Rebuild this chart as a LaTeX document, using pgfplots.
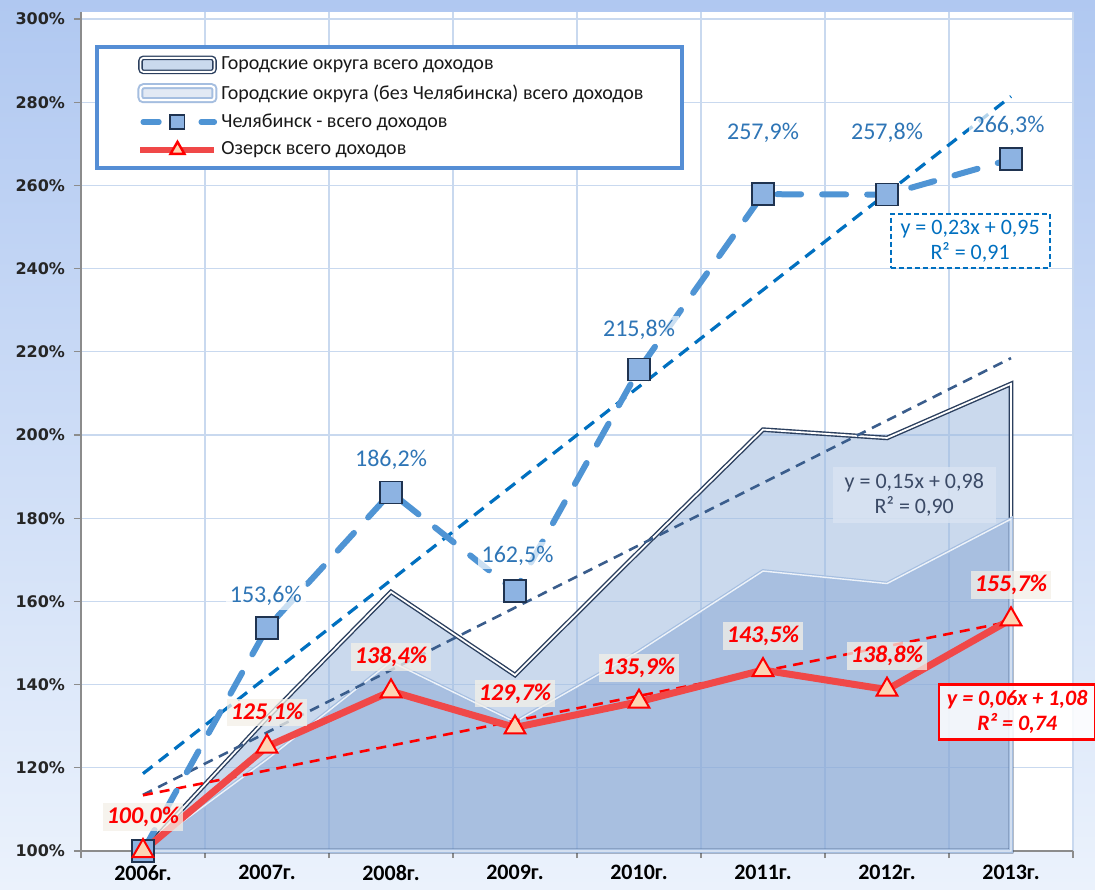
\documentclass[border=0pt]{standalone}
\usepackage{fontspec}
\setmainfont{Carlito}
\newfontfamily\dejavu{DejaVu Sans}
\usepackage{pgfplots}
\pgfplotsset{compat=1.18}
\usetikzlibrary{backgrounds}
\definecolor{bgtop}{HTML}{B0C8F1}
\definecolor{bgbot}{HTML}{EBF2FC}
\definecolor{gridc}{HTML}{C9D9EF}
\definecolor{axisc}{HTML}{8C8C8C}
\definecolor{legc}{HTML}{558ED5}
\definecolor{areaA}{HTML}{9FBBE0}
\definecolor{areaB}{HTML}{80A0D2}
\definecolor{edgeA}{HTML}{2B3F5E}
\definecolor{edgeB}{HTML}{A5BEE0}
\definecolor{chel}{HTML}{4F94D4}
\definecolor{chelmark}{HTML}{8DB3E2}
\definecolor{markedge}{HTML}{1F3350}
\definecolor{ozr}{HTML}{F04848}
\definecolor{ozmark}{HTML}{FCD5B4}
\definecolor{trchel}{HTML}{0070C0}
\definecolor{trA}{HTML}{3A5D8C}
\definecolor{lblblue}{HTML}{2E75B6}
\definecolor{trAtext}{HTML}{3B4A66}
\definecolor{trAbox}{HTML}{D9E4F2}
\definecolor{ozbox}{HTML}{F3F0E8}
\begin{document}
\begin{tikzpicture}
\begin{axis}[
  name=ax, scale only axis, width=496pt, height=419.5pt,
  xmin=-0.5, xmax=7.5, ymin=100, ymax=301.7,
  xtick={-0.5,0.5,...,7.5},
  x tick label as interval,
  xticklabels={2006г.,2007г.,2008г.,2009г.,2010г.,2011г.,2012г.,2013г.},
  ytick={100,120,...,300},
  xmajorgrids=true, ymajorgrids=true,
  grid style={draw=gridc, line width=0.6pt},
  axis lines=left, axis line style={-, draw=axisc, line width=0.8pt},
  tick align=outside,
  tick style={draw=axisc, line width=0.6pt},
  major tick length=3.5pt,
  axis background/.style={fill=white},
  clip=false,
  xticklabel style={font=\bfseries\fontsize{11}{13}\selectfont, text=black},
  yticklabel style={font=\dejavu\bfseries\fontsize{8}{9}\selectfont, text=black!85, xshift=-1pt},
  yticklabel={\pgfmathprintnumber[assume math mode=true, fixed, precision=0]{\tick}\%},
  legend style={at={(0.0141,0.9607)}, anchor=north west, draw=legc, line width=2pt, fill=white,
    font=\fontsize{10}{12}\selectfont, inner xsep=3pt, inner ysep=3pt, row sep=1.8pt,
    cells={anchor=west}, text=black!90},
]
% areas
\addplot[draw=edgeA, line width=0.7pt, double=white, double distance=0.9pt,
  fill=areaA, fill opacity=0.55,
  legend image code/.code={\path (-17pt,0pt);
    \draw[draw=edgeA, line width=0.7pt, double=white, double distance=0.9pt, fill=areaA, rounded corners=1.5pt] (0pt,-3.5pt) rectangle (37pt,3.5pt);}]
  coordinates {(0,100)(1,132)(2,162.3)(3,142.3)(4,172)(5,201.3)(6,199.3)(7,212.3)} \closedcycle;
\addlegendentry{Городские округа  всего доходов}
\addplot[draw=edgeB, line width=0.6pt, double=white!80!edgeB, double distance=0.7pt,
  fill=areaB, fill opacity=0.45,
  legend image code/.code={\path (-17pt,0pt);
    \draw[draw=edgeB, line width=1pt, double=white, double distance=1pt, fill=areaB!50!white, rounded corners=1.5pt] (0pt,-3.5pt) rectangle (37pt,3.5pt);}]
  coordinates {(0,100)(1,122)(2,145.5)(3,131)(4,148)(5,167.3)(6,164.3)(7,179.8)} \closedcycle;
\addlegendentry{Городские округа (без Челябинска) всего доходов\hspace*{14.5pt}}
% trend lines
\addplot[trA, line width=1.3pt, dash pattern=on 5pt off 3.5pt, forget plot] coordinates {(0,113.5)(7,218.5)};
\addplot[trchel, line width=1.6pt, dash pattern=on 6pt off 4pt, forget plot] coordinates {(0,118.6)(7,281.4)};
\addplot[red, line width=1.3pt, dash pattern=on 5pt off 3.5pt, forget plot] coordinates {(0,113.4)(7,155.2)};
% Chelyabinsk
\addplot[color=chel, line width=3pt, dash pattern=on 12pt off 10.5pt, line cap=round,
  mark=square*, mark size=5.5pt, mark options={solid, fill=chelmark, draw=markedge, line width=0.8pt},
  legend image code/.code={\path (-17pt,0pt);
    \draw[line width=2.6pt, line cap=round, dash pattern=on 8pt off 21pt on 8pt off 20pt] (1.3pt,0pt) -- (37pt,0pt);
    \draw[mark size=3.6pt] plot coordinates {(18.5pt,0pt)};}]
  coordinates {(0,100)(1,153.6)(2,186.2)(3,162.5)(4,215.8)(5,257.9)(6,257.8)(7,266.3)};
\addlegendentry{Челябинск - всего доходов}
% Ozersk
\addplot[color=ozr, line width=3.5pt,
  mark=triangle*, mark size=6pt, mark options={fill=ozmark, draw=red, line width=1pt},
  nodes near coords, point meta=explicit symbolic,
  every node near coord/.append style={anchor=center, yshift=17pt, text=red, fill=ozbox, fill opacity=0.75, text opacity=1,
    font=\bfseries\itshape\fontsize{12}{14}\selectfont, inner sep=2pt},
  legend image code/.code={\path (-17pt,0pt);
    \draw[line width=3pt] (0pt,0pt) -- (37pt,0pt);
    \draw[mark size=4pt, mark options={fill=ozmark, draw=red, line width=1.2pt}] plot coordinates {(18.5pt,0pt)};}]
  coordinates {(0,100)[100,0\%] (1,125.1)[125,1\%] (2,138.4)[138,4\%] (3,129.7)[129,7\%] (4,135.9)[135,9\%] (5,143.5)[143,5\%] (6,138.8)[138,8\%] (7,155.7)[155,7\%]};
\addlegendentry{Озерск  всего доходов}
% Chelyabinsk labels
\tikzset{chellbl/.style={text=lblblue, fill=white, fill opacity=0.7, text opacity=1, font=\fontsize{12}{14}\selectfont, inner sep=2pt}}
\node[chellbl] at (axis cs:0.99,161.3) {153,6\%};
\node[chellbl] at (axis cs:2,194) {186,2\%};
\node[chellbl] at (axis cs:3.02,171) {162,5\%};
\node[chellbl] at (axis cs:4,225.2) {215,8\%};
\node[chellbl] at (axis cs:5,272.6) {257,9\%};
\node[chellbl] at (axis cs:6,272.6) {257,8\%};
\node[chellbl] at (axis cs:6.98,274.3) {266,3\%};
% trend equation boxes
\node[draw=trchel, dash pattern=on 2.5pt off 1.5pt, line width=1pt, fill=white, text=trchel, align=center,
  font=\fontsize{11}{12.5}\selectfont, inner xsep=5pt, inner ysep=3pt] at (axis cs:6.67,246.6) {y = 0,23x + 0,95\\R² = 0,91};
\node[fill=trAbox, fill opacity=0.8, text opacity=1, text=trAtext, align=center,
  font=\fontsize{11}{12.5}\selectfont, inner xsep=6pt, inner ysep=3.5pt] at (axis cs:6.22,185.6) {y = 0,15x + 0,98\\R² = 0,90};
\node[draw=red, line width=1.2pt, fill=white, fill opacity=0.85, text opacity=1, text=red, align=center,
  font=\bfseries\itshape\fontsize{11}{12.5}\selectfont, inner xsep=4pt, inner ysep=3pt] at (axis cs:7.05,133.4) {y = 0,06x + 1,08\\R² = 0,74};
\end{axis}
\begin{scope}[on background layer]
\shade[top color=bgtop, bottom color=bgbot] ([shift={(-40.5pt,-19pt)}]ax.south west) rectangle ([shift={(11pt,6pt)}]ax.north east);
\end{scope}
\pgfresetboundingbox
\path[use as bounding box] ([shift={(-40.5pt,-19pt)}]ax.south west) rectangle ([shift={(11pt,6pt)}]ax.north east);
\end{tikzpicture}
\end{document}
